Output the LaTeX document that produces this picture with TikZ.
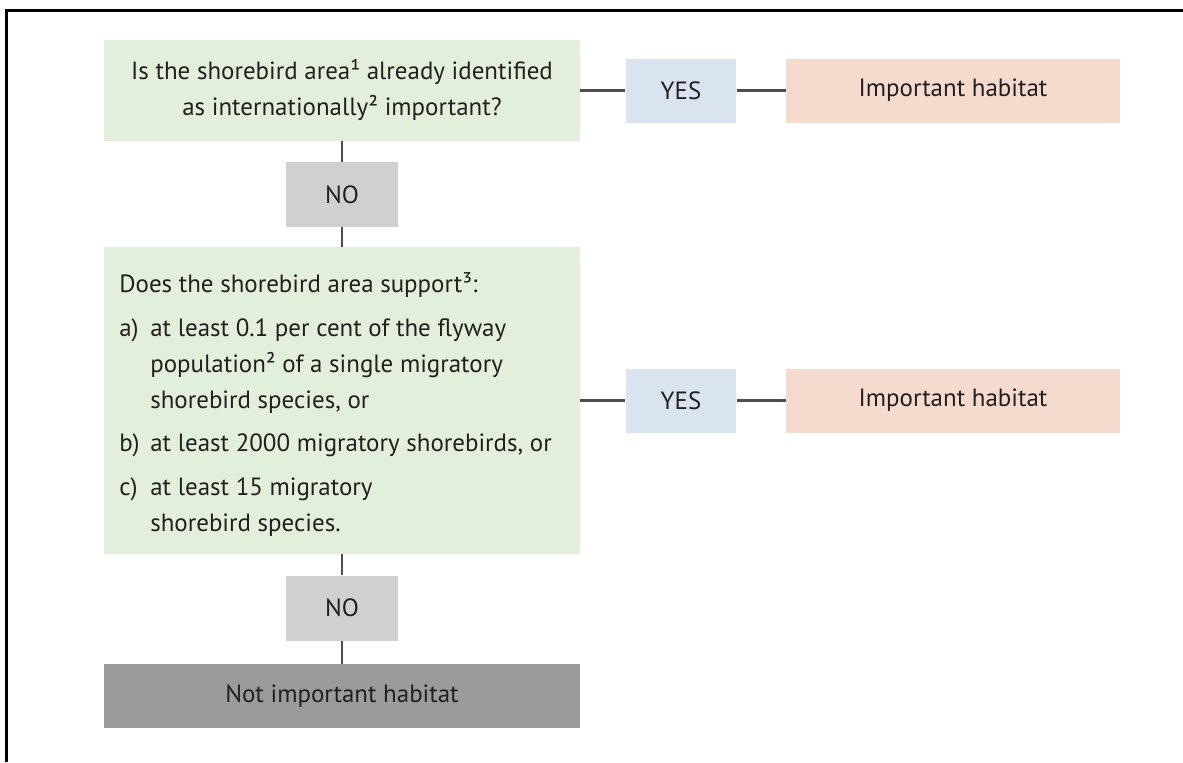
\documentclass[tikz,border=0pt]{standalone}
\usepackage{fontspec}
\setmainfont{PT Sans}
\usepackage{array}

\definecolor{qgreen}{HTML}{E2EFDA}
\definecolor{yesblue}{HTML}{DAE3F0}
\definecolor{habpink}{HTML}{F4DBCE}
\definecolor{nogray}{HTML}{D0D0D2}
\definecolor{notgray}{HTML}{9B9B9B}
\definecolor{linegray}{HTML}{4D4D4D}
\definecolor{inkgray}{HTML}{231F20}

\tikzset{
  box/.style={inner sep=0pt, text=inkgray, font=\fontsize{14.2}{20.5}\selectfont},
  qbox/.style={box, fill=qgreen, minimum width=9.52cm},
  yesbox/.style={box, fill=yesblue, minimum width=2.22cm, minimum height=1.28cm},
  nobox/.style={box, fill=nogray, minimum width=2.24cm, minimum height=1.3cm},
  habbox/.style={box, fill=habpink, minimum width=6.68cm, minimum height=1.28cm},
  notbox/.style={box, fill=notgray, minimum width=9.52cm, minimum height=1.28cm},
  link/.style={draw=linegray, line width=1.5pt}
}

\begin{document}
\begin{tikzpicture}[x=0.02cm, y=-0.02cm]
  \useasboundingbox (0,0) rectangle (1183,762);

  % Frame
  \draw[line width=1.7pt] (6.5,762) -- (6.5,10.5) -- (1183,10.5);

  % First question
  \node[qbox, minimum height=2.02cm] (q1) at (342,90.5)
    {\begin{tabular}{@{}c@{}}
      Is the shorebird area¹ already identified\\
      as internationally² important?
    \end{tabular}};
  \node[yesbox] (yes1) at (681,90.5) {YES};
  \node[habbox] (imp1) at (953,90.5) {Important habitat};
  \node[nobox] (no1) at (342,194.5) {NO};

  % Second question
  \node[qbox, minimum height=6.14cm] (q2) at (342,400.5) {};
  \node[box, anchor=north west] (q2txt) at (119,267)
    {\begin{tabular}{@{}p{0.62cm}@{}l@{}}
      \multicolumn{2}{@{}l@{}}{Does the shorebird area support³:}\\[4.3pt]
      a) & at least 0.1 per cent of the flyway\\
         & population² of a single migratory\\
         & shorebird species, or\\[4.3pt]
      b) & at least 2000 migratory shorebirds, or\\[4.3pt]
      c) & at least 15 migratory\\
         & shorebird species.
    \end{tabular}};
  \node[yesbox] (yes2) at (681,400.5) {YES};
  \node[habbox] (imp2) at (953,400.5) {Important habitat};
  \node[nobox] (no2) at (342,608) {NO};

  % Outcome
  \node[notbox] (notimp) at (342,696) {Not important habitat};

  % Connectors
  \draw[link] (q1) -- (yes1) -- (imp1);
  \draw[link] (q1) -- (no1) -- (q2);
  \draw[link] (q2) -- (yes2) -- (imp2);
  \draw[link] (q2) -- (no2) -- (notimp);
\end{tikzpicture}
\end{document}
